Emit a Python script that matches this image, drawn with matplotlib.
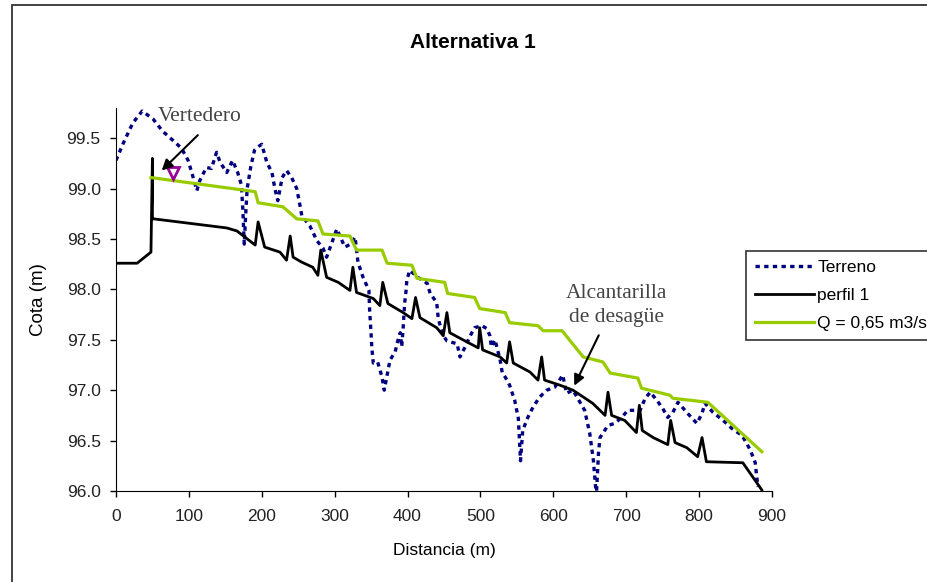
"""Alternativa 1 - perfil longitudinal"""
import matplotlib
matplotlib.use("Agg")
import matplotlib.pyplot as plt
from matplotlib.patches import Rectangle
from matplotlib.ticker import FormatStrFormatter

plt.rcParams['font.family'] = ['Liberation Sans', 'DejaVu Sans']

# terreno natural (m, m)
terreno_x = [0, 10, 23, 36, 51, 64, 78, 90, 99, 104, 111, 115, 124, 131, 138, 143, 152, 160,
             167, 172, 174, 176, 178, 180, 185, 190, 196, 200, 207, 214, 218, 222, 228, 234,
             241, 248, 252, 255, 266, 276, 284, 289, 296, 303, 314, 322, 328, 332, 339, 347,
             348, 350, 351, 353, 359, 365, 368, 372, 376, 383, 387, 390, 392, 394, 396, 398,
             399, 403, 414, 427, 431, 440, 442, 444, 449, 454, 468, 472, 479, 486, 492, 502,
             509, 513, 515, 520, 527, 530, 534, 540, 547, 552, 554, 555, 558, 565, 572, 581,
             591, 602, 613, 618, 627, 643, 650, 655, 659, 662, 664, 675, 684, 694, 702, 719,
             726, 733, 742, 750, 757, 764, 771, 783, 797, 804, 808, 819, 833, 845, 859, 870,
             877, 879, 881]
terreno_y = [99.28, 99.45, 99.65, 99.77, 99.69, 99.57, 99.48, 99.40, 99.28, 99.16, 98.98, 99.08,
             99.21, 99.20, 99.36, 99.26, 99.16, 99.28, 99.16, 99.04, 98.80, 98.45, 98.75, 99.00,
             99.22, 99.38, 99.42, 99.44, 99.26, 99.16, 99.00, 98.88, 99.11, 99.18, 99.11, 99.00,
             98.85, 98.73, 98.63, 98.48, 98.41, 98.32, 98.46, 98.60, 98.42, 98.45, 98.52, 98.27,
             98.12, 97.99, 97.79, 97.56, 97.42, 97.27, 97.28, 97.13, 97.00, 97.15, 97.30, 97.38,
             97.50, 97.57, 97.43, 97.62, 97.86, 97.99, 98.09, 98.19, 98.12, 98.06, 97.96, 97.87,
             97.72, 97.66, 97.54, 97.49, 97.46, 97.33, 97.43, 97.54, 97.62, 97.64, 97.61, 97.54,
             97.43, 97.50, 97.30, 97.17, 97.13, 97.05, 96.90, 96.72, 96.44, 96.30, 96.60, 96.73,
             96.83, 96.93, 97.00, 97.03, 97.15, 96.97, 97.00, 96.80, 96.57, 96.30, 95.95, 96.38,
             96.53, 96.65, 96.67, 96.73, 96.80, 96.80, 96.92, 96.98, 96.90, 96.82, 96.73, 96.78,
             96.88, 96.78, 96.67, 96.77, 96.87, 96.78, 96.70, 96.62, 96.55, 96.41, 96.28, 96.14,
             96.04]

# perfil 1 (solera)
perfil_x = [0, 29, 48, 50, 50, 52, 152, 166, 191, 195, 204, 225, 234, 239, 243, 255, 270, 277,
            281, 289, 305, 311, 321, 325, 330, 353, 362, 366, 373, 394, 406, 411, 417, 440, 449,
            454, 458, 476, 497, 499, 503, 527, 536, 540, 545, 568, 579, 584, 588, 609, 627, 654,
            671, 675, 680, 698, 714, 718, 722, 737, 757, 761, 767, 783, 798, 804, 810, 860, 886]
perfil_y = [98.26, 98.26, 98.37, 99.30, 98.70, 98.70, 98.61, 98.58, 98.44, 98.67, 98.42, 98.37,
            98.29, 98.53, 98.32, 98.27, 98.22, 98.14, 98.39, 98.12, 98.07, 98.04, 97.99, 98.22,
            97.97, 97.91, 97.84, 98.07, 97.86, 97.77, 97.71, 97.92, 97.72, 97.62, 97.54, 97.77,
            97.57, 97.50, 97.42, 97.62, 97.40, 97.33, 97.27, 97.48, 97.27, 97.18, 97.10, 97.33,
            97.10, 97.05, 97.00, 96.87, 96.75, 96.98, 96.75, 96.70, 96.58, 96.85, 96.60, 96.53,
            96.46, 96.70, 96.48, 96.43, 96.34, 96.53, 96.29, 96.28, 96.01]

# lamina de agua Q = 0,65 m3/s
q_x = [48, 191, 195, 229, 248, 277, 284, 321, 330, 365, 372, 406, 413, 451, 455, 492, 499,
       534, 540, 579, 586, 612, 641, 668, 678, 716, 721, 760, 764, 812, 886]
q_y = [99.11, 98.97, 98.86, 98.82, 98.70, 98.68, 98.55, 98.53, 98.39, 98.39, 98.26, 98.24,
       98.11, 98.07, 97.96, 97.92, 97.81, 97.77, 97.67, 97.64, 97.59, 97.59, 97.33, 97.28,
       97.17, 97.12, 97.02, 96.95, 96.92, 96.88, 96.39]

# simbolo de nivel en el vertedero
nivel_x = [78]
nivel_y = [99.16]

labels = ['Terreno', 'perfil 1', 'Q = 0,65 m3/s']
xticks = [0, 100, 200, 300, 400, 500, 600, 700, 800, 900]
yticks = [96.0, 96.5, 97.0, 97.5, 98.0, 98.5, 99.0, 99.5]

fig = plt.figure(figsize=(9.27, 5.82), dpi=100)
# marco del grafico (cortado a la derecha y abajo)
fig.patches.append(Rectangle((0.013, -0.1), 1.2, 1.0914, transform=fig.transFigure,
                             fill=False, ec='#333333', lw=1.3))

ax = fig.add_axes([0.1251, 0.1564, 0.7077, 0.658])
ax.plot(terreno_x, terreno_y, color='#000080', lw=2.4, ls=(0, (1.3, 1.3)),
        dash_capstyle='butt', label=labels[0])
ax.plot(perfil_x, perfil_y, color='black', lw=2.0, label=labels[1])
ax.plot(q_x, q_y, color='#99CC00', lw=2.3, label=labels[2])
ax.plot(nivel_x, nivel_y, 'v', ms=9, mfc='none', mec='#990099', mew=2)

ax.set_xlim(0, 900)
ax.set_ylim(96.0, 99.8)
ax.set_xticks(xticks)
ax.set_yticks(yticks)
ax.yaxis.set_major_formatter(FormatStrFormatter('%.1f'))
ax.spines['top'].set_visible(False)
ax.spines['right'].set_visible(False)
ax.tick_params(direction='out', length=4, width=1, labelsize=12.5, colors='black')
ax.tick_params(axis='x', pad=9)
ax.tick_params(axis='y', pad=7)
for lab in ax.get_xticklabels() + ax.get_yticklabels():
    lab.set_color('#222222')

fig.text(0.51, 0.927, 'Alternativa 1', ha='center', va='center',
         fontsize=15, fontweight='bold')
ax.set_xlabel('Distancia (m)', fontsize=12.5, labelpad=14)
ax.set_ylabel('Cota (m)', fontsize=13.5)
ax.yaxis.set_label_coords(-0.105, 0.5)

serif = ['Liberation Serif', 'DejaVu Serif']
ax.text(115, 99.72, 'Vertedero', ha='center', va='center', fontsize=15.5,
        family=serif, color='#444444')
ax.annotate('', xy=(60, 99.16), xytext=(115, 99.55),
            arrowprops=dict(arrowstyle='-|>', color='black', lw=1.5, mutation_scale=16))
ax.text(687, 97.84, 'Alcantarilla\nde desagüe', ha='center', va='center', fontsize=15.5,
        family=serif, color='#444444', linespacing=1.3)
ax.annotate('', xy=(627, 97.02), xytext=(664, 97.57),
            arrowprops=dict(arrowstyle='-|>', color='black', lw=1.5, mutation_scale=16))

leg = ax.legend(loc='upper left', bbox_to_anchor=(746 / 927, 1 - 251 / 582),
                bbox_transform=fig.transFigure, frameon=True, fancybox=False,
                fontsize=12.5, handlelength=3.4, handletextpad=0.2, borderpad=0.5,
                labelspacing=0.75, borderaxespad=0)
leg.get_frame().set_edgecolor('black')
leg.get_frame().set_linewidth(1.2)

plt.savefig('out.png', dpi=100)
